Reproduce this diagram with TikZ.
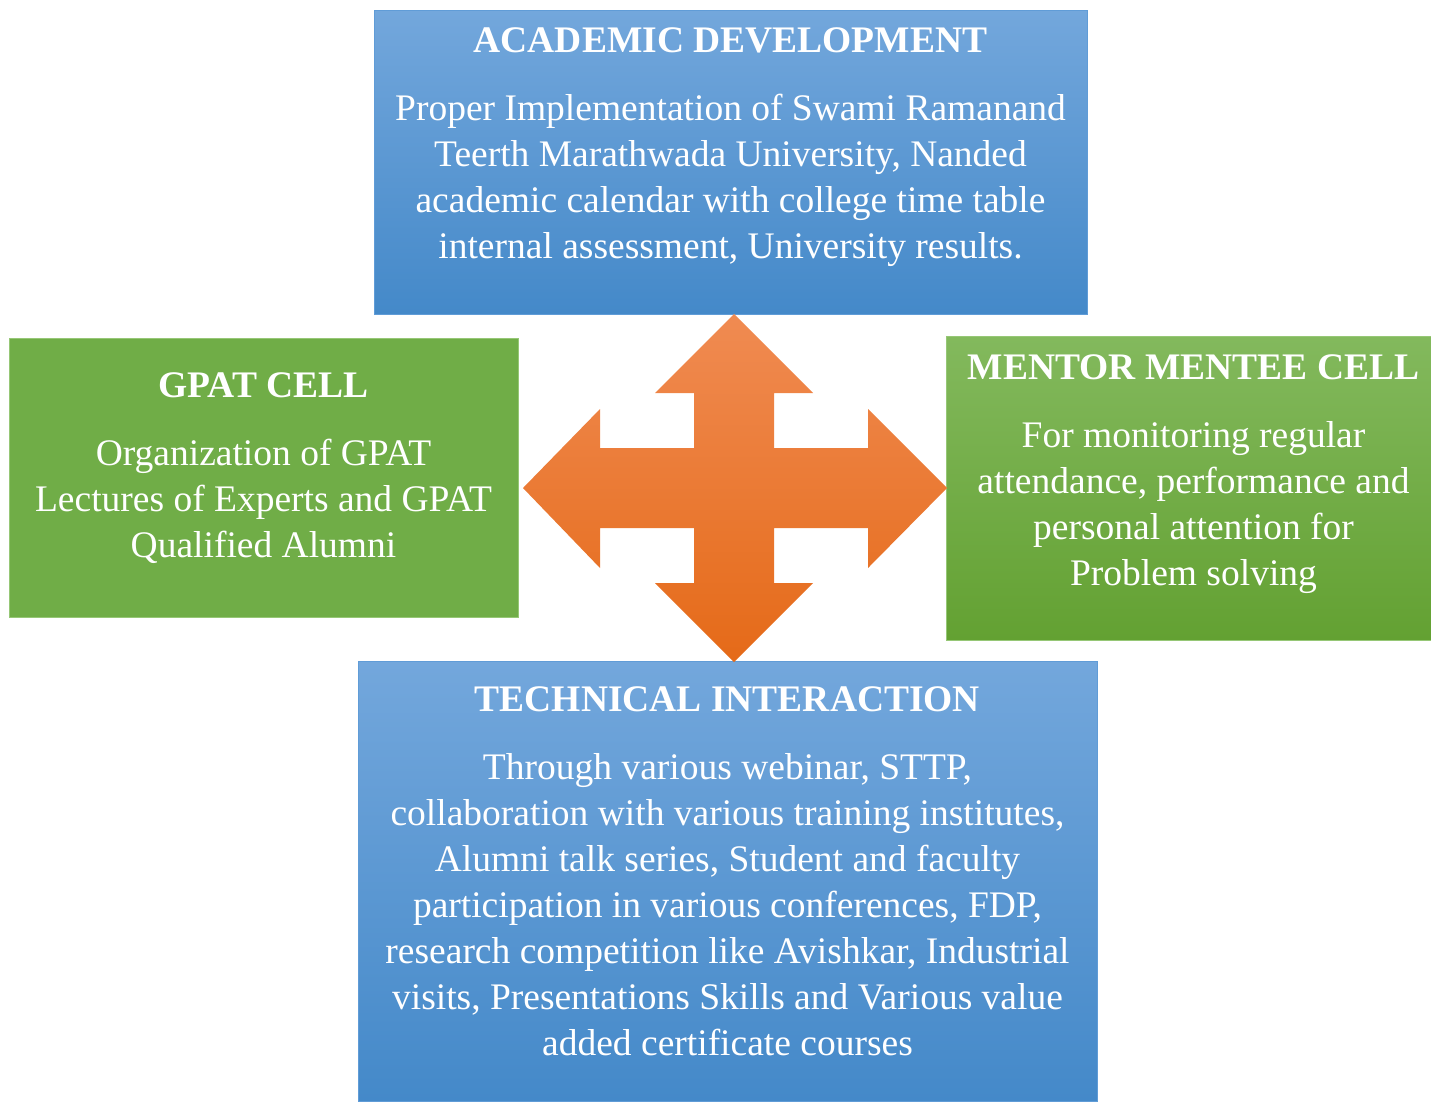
\documentclass[tikz,border=0pt]{standalone}
\usepackage{fontspec}
\setmainfont{Liberation Serif}
\usepackage{xcolor}
\usetikzlibrary{positioning}

\definecolor{blueTop}{RGB}{115,167,220}
\definecolor{blueBot}{RGB}{68,137,201}
\definecolor{blueEdge}{RGB}{96,156,215}
\definecolor{greenFlat}{RGB}{112,173,71}
\definecolor{greenTop}{RGB}{131,185,93}
\definecolor{greenBot}{RGB}{99,161,50}
\definecolor{greenEdge}{RGB}{150,199,118}
\definecolor{arrowTop}{RGB}{240,139,82}
\definecolor{arrowMid}{RGB}{244,125,46}
\definecolor{arrowBot}{RGB}{229,106,24}

\tikzset{
  box/.style={line width=1pt, inner sep=0pt},
  bluebox/.style={box, draw=blueEdge, top color=blueTop, bottom color=blueBot},
  flatgreenbox/.style={box, draw=greenEdge, fill=greenFlat},
  greenbox/.style={box, draw=greenEdge, top color=greenTop, bottom color=greenBot},
  boxtext/.style={text=white, align=center, inner sep=0pt,
    font=\fontsize{37.5}{46}\selectfont},
}

\begin{document}
\begin{tikzpicture}[x=1pt,y=-1pt]
\useasboundingbox (0,0) rectangle (1431,1101);

% the four boxes
\node[bluebox, minimum width=713pt, minimum height=304pt] (acad) at (730.5,162) {};
\node[flatgreenbox, minimum width=509pt, minimum height=279pt] (gpat) at (263.5,477.5) {};
\node[greenbox, minimum width=485pt, minimum height=304pt] (mentor) at (1188.5,488) {};
\node[bluebox, minimum width=739pt, minimum height=440pt] (tech) at (727.5,881) {};

% texts
\node[boxtext, below=18pt of acad.north] (acadtext) {\textbf{ACADEMIC DEVELOPMENT}\\[22pt]
  Proper Implementation of Swami Ramanand\\
  Teerth Marathwada University, Nanded\\
  academic calendar with college time table\\
  internal assessment, University results.};

\node[boxtext, below=35pt of gpat.north] (gpattext) {\textbf{GPAT CELL}\\[22pt]
  Organization of GPAT\\
  Lectures of Experts and GPAT\\
  Qualified Alumni};

\node[boxtext, below=19pt of mentor.north, xshift=5pt] (mentortext) {\textbf{MENTOR MENTEE CELL}\\[22pt]
  For monitoring regular\\
  attendance, performance and\\
  personal attention for\\
  Problem solving};

\node[boxtext, below=26pt of tech.north] (techtext) {\textbf{TECHNICAL INTERACTION}\\[22pt]
  Through various webinar, STTP,\\
  collaboration with various training institutes,\\
  Alumni talk series, Student and faculty\\
  participation in various conferences, FDP,\\
  research competition like Avishkar, Industrial\\
  visits, Presentations Skills and Various value\\
  added certificate courses};

% four way arrow in the middle
\shade[top color=arrowTop, middle color=arrowMid, bottom color=arrowBot]
  (734,314) -- (813,393) -- (774,393) -- (774,448) -- (868,448) -- (868,409)
  -- (947,488) -- (868,568) -- (868,528) -- (774,528) -- (774,583) -- (813,583)
  -- (734,662) -- (655,583) -- (694,583) -- (694,528) -- (600,528) -- (600,568)
  -- (523,488) -- (600,409) -- (600,448) -- (694,448) -- (694,393) -- (655,393)
  -- cycle;
\end{tikzpicture}
\end{document}
